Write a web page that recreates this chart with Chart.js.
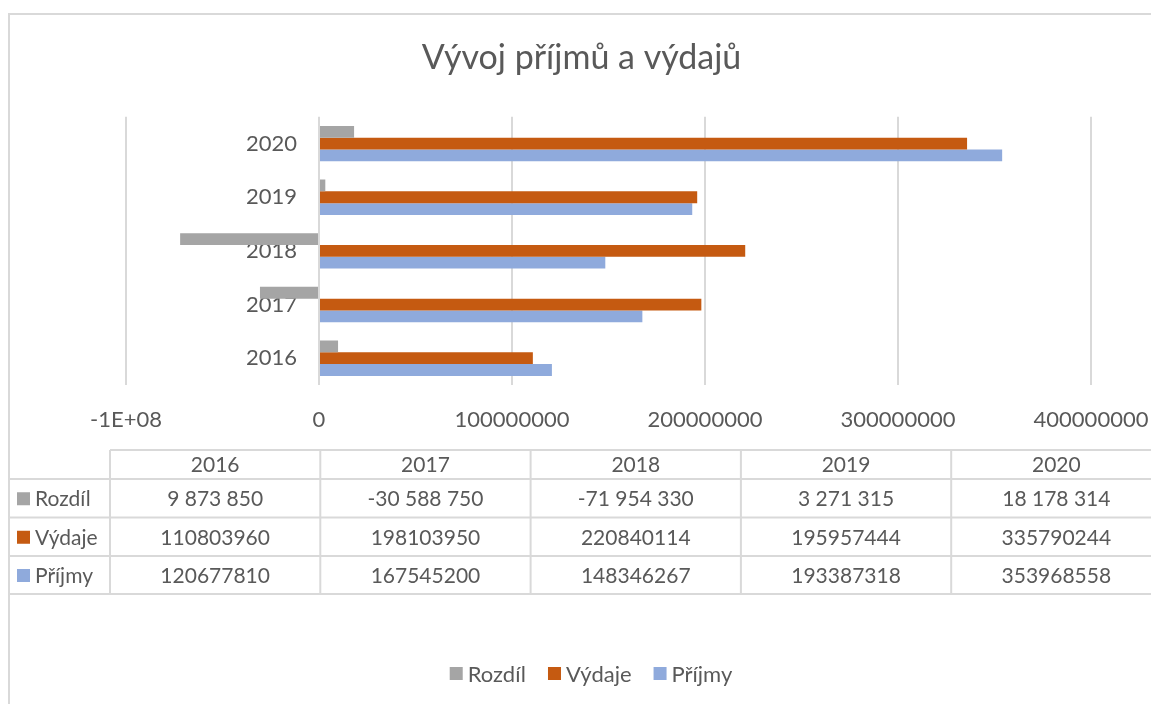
<!DOCTYPE html>
<html>
<head>
<meta charset="utf-8">
<script src="https://cdn.jsdelivr.net/npm/chart.js@4"></script>
<style>
  body { margin: 0; background: #fff; }
  #box { width: 1151px; height: 704px; }
</style>
</head>
<body>
<div id="box"><canvas id="graf"></canvas></div>
<script>
const roky = ["2016", "2017", "2018", "2019", "2020"];
const rozdil = [9873850, -30588750, -71954330, 3271315, 18178314];
const vydaje = [110803960, 198103950, 220840114, 195957444, 335790244];
const prijmy = [120677810, 167545200, 148346267, 193387318, 353968558];
const nazvy = ["Rozdíl", "Výdaje", "Příjmy"];
const barvy = ["#A5A5A5", "#C55A11", "#8FAADC"];

const text = "#595959";
const cara = "#d9d9d9";
const pismo = "Lato, 'Open Sans', sans-serif";

// excel ukazuje -1E+08 u zaporneho ticku
function popisOsy(v) {
  if (v < 0 && Math.abs(v) >= 1e8) {
    const exp = Math.floor(Math.log10(Math.abs(v)));
    return (v / Math.pow(10, exp)).toFixed(0) + "E+" + String(exp).padStart(2, "0");
  }
  return String(v);
}

function mezery(v) {
  const s = String(Math.abs(v)).replace(/\B(?=(\d{3})+(?!\d))/g, " ");
  return (v < 0 ? "-" : "") + s;
}

const radky = [
  { nazev: nazvy[0], barva: barvy[0], hodnoty: rozdil.map(mezery) },
  { nazev: nazvy[1], barva: barvy[1], hodnoty: vydaje.map(String) },
  { nazev: nazvy[2], barva: barvy[2], hodnoty: prijmy.map(String) },
];

// v grafu je 2020 nahore
const obr = (a) => a.slice().reverse();

const ramecek = {
  id: "ramecek",
  beforeDraw(chart) {
    const ctx = chart.ctx;
    ctx.save();
    ctx.fillStyle = "#fff";
    ctx.fillRect(0, 0, chart.width, chart.height);
    ctx.strokeStyle = cara;
    ctx.lineWidth = 2;
    ctx.beginPath();
    ctx.moveTo(9, chart.height);
    ctx.lineTo(9, 14);
    ctx.lineTo(chart.width, 14);
    ctx.stroke();
    ctx.restore();
  }
};

const kategorie = {
  id: "kategorie",
  beforeDatasetsDraw(chart) {
    const ctx = chart.ctx;
    const x0 = chart.scales.x.getPixelForValue(0);
    const y = chart.scales.y;
    ctx.save();
    ctx.font = "22px " + pismo;
    ctx.fillStyle = text;
    ctx.textAlign = "right";
    ctx.textBaseline = "middle";
    chart.data.labels.forEach((l, i) => {
      ctx.fillText(l, x0 - 22, y.getPixelForValue(i));
    });
    ctx.restore();
  }
};

const tabulka = {
  id: "tabulka",
  afterDraw(chart) {
    const ctx = chart.ctx;
    const levy = 9, prvni = 110, sirka = 210.3;
    const hl = [450, 479, 517.5, 556, 594];
    const pravy = chart.width;
    ctx.save();
    ctx.strokeStyle = cara;
    ctx.lineWidth = 2;
    ctx.beginPath();
    ctx.moveTo(prvni, hl[0]); ctx.lineTo(pravy, hl[0]);
    for (let i = 1; i < hl.length; i++) {
      ctx.moveTo(levy, hl[i]); ctx.lineTo(pravy, hl[i]);
    }
    for (let c = 0; c <= roky.length; c++) {
      const x = prvni + c * sirka;
      ctx.moveTo(x, hl[0]); ctx.lineTo(x, hl[hl.length - 1]);
    }
    ctx.stroke();

    ctx.font = "21px " + pismo;
    ctx.fillStyle = text;
    ctx.textBaseline = "middle";
    ctx.textAlign = "center";
    roky.forEach((r, c) => {
      ctx.fillText(r, prvni + (c + 0.5) * sirka, (hl[0] + hl[1]) / 2 + 1);
    });
    radky.forEach((rad, i) => {
      const yc = (hl[i + 1] + hl[i + 2]) / 2 + 1;
      ctx.fillStyle = rad.barva;
      ctx.fillRect(17, yc - 7, 13, 13);
      ctx.fillStyle = text;
      ctx.textAlign = "left";
      ctx.fillText(rad.nazev, 35, yc);
      ctx.textAlign = "center";
      rad.hodnoty.forEach((h, c) => {
        ctx.fillText(h, prvni + (c + 0.5) * sirka, yc);
      });
    });
    ctx.restore();
  }
};

// legenda dole, vlastni kvuli rozestupum
const legenda = {
  id: "legenda",
  afterDraw(chart) {
    const ctx = chart.ctx;
    const box = 13, mezera = 5, rozestup = 22, stred = 591, yc = 673.5;
    ctx.save();
    ctx.font = "22px " + pismo;
    ctx.textBaseline = "middle";
    ctx.textAlign = "left";
    const ds = chart.data.datasets;
    const sirky = ds.map((d) => box + mezera + ctx.measureText(d.label).width);
    const celkem = sirky.reduce((a, b) => a + b, 0) + rozestup * (ds.length - 1);
    let x = stred - celkem / 2;
    ds.forEach((d, i) => {
      ctx.fillStyle = d.backgroundColor;
      ctx.fillRect(x, yc - box / 2, box, box);
      ctx.fillStyle = text;
      ctx.fillText(d.label, x + box + mezera, yc + 1);
      x += sirky[i] + rozestup;
    });
    ctx.restore();
  }
};

new Chart(document.getElementById("graf"), {
  type: "bar",
  data: {
    labels: obr(roky),
    datasets: [
      { label: nazvy[0], data: obr(rozdil), backgroundColor: barvy[0] },
      { label: nazvy[1], data: obr(vydaje), backgroundColor: barvy[1] },
      { label: nazvy[2], data: obr(prijmy), backgroundColor: barvy[2] },
    ]
  },
  options: {
    indexAxis: "y",
    responsive: true,
    maintainAspectRatio: false,
    animation: false,
    datasets: { bar: { categoryPercentage: 0.66, barPercentage: 1 } },
    layout: { padding: { left: 72, right: 60, top: 0, bottom: 0 } },
    scales: {
      x: {
        min: -100000000,
        max: 400000000,
        grid: { color: cara, lineWidth: 2, drawTicks: false },
        border: { display: false },
        ticks: {
          stepSize: 100000000,
          padding: 22,
          color: text,
          font: { family: pismo, size: 22 },
          callback: (v) => popisOsy(v)
        },
        afterFit: (s) => {
          s.height = 319;
          s.paddingLeft = 0;
          s.paddingRight = 0;
        }
      },
      y: {
        grid: { display: false },
        border: { display: false },
        ticks: { display: false },
        afterFit: (s) => { s.width = 54; }
      }
    },
    plugins: {
      title: {
        display: true,
        text: "Vývoj příjmů a výdajů",
        color: text,
        font: { family: pismo, size: 34, weight: "normal" },
        padding: { top: 38, bottom: 38 }
      },
      legend: { display: false },
      tooltip: { enabled: false }
    }
  },
  plugins: [ramecek, kategorie, tabulka, legenda]
});
</script>
</body>
</html>
